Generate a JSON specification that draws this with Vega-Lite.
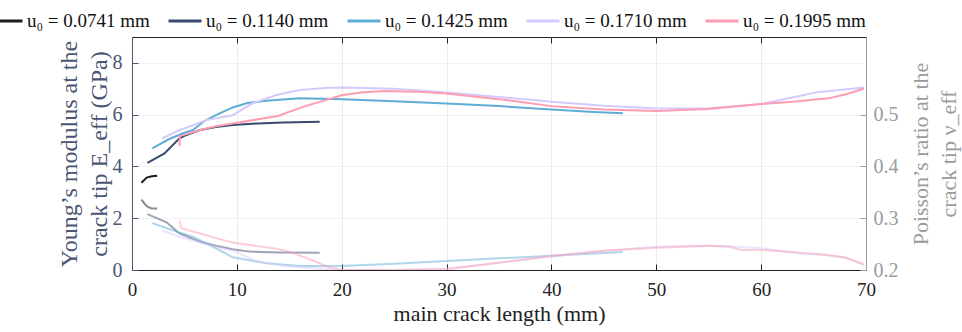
{
  "$schema": "https://vega.github.io/schema/vega-lite/v6.json",
  "width": 734,
  "height": 233,
  "autosize": {"type": "none"},
  "padding": {"left": 132, "top": 37, "right": 96, "bottom": 62},
  "background": "white",
  "config": {
    "font": "Liberation Serif",
    "view": {"stroke": "#222222", "strokeWidth": 1},
    "axis": {"labelFont": "Liberation Serif", "titleFont": "Liberation Serif", "titleFontWeight": "normal"},
    "legend": {"labelFont": "Liberation Serif"},
    "text": {"font": "Liberation Serif"}
  },
  "datasets": {
    "E": [
      {"u0": "0.0741", "x": 0.9, "v": 3.37}, {"u0": "0.0741", "x": 1.4, "v": 3.57}, {"u0": "0.0741", "x": 1.9, "v": 3.62}, {"u0": "0.0741", "x": 2.4, "v": 3.64},
      {"u0": "0.1140", "x": 1.47, "v": 4.14}, {"u0": "0.1140", "x": 3.1, "v": 4.5}, {"u0": "0.1140", "x": 4.5, "v": 5.08}, {"u0": "0.1140", "x": 5.0, "v": 5.18}, {"u0": "0.1140", "x": 6.4, "v": 5.4}, {"u0": "0.1140", "x": 8, "v": 5.52}, {"u0": "0.1140", "x": 9.6, "v": 5.6}, {"u0": "0.1140", "x": 12, "v": 5.66}, {"u0": "0.1140", "x": 14.4, "v": 5.7}, {"u0": "0.1140", "x": 17.9, "v": 5.73},
      {"u0": "0.1425", "x": 1.94, "v": 4.7}, {"u0": "0.1425", "x": 3.5, "v": 5.05}, {"u0": "0.1425", "x": 5.0, "v": 5.3}, {"u0": "0.1425", "x": 5.8, "v": 5.4}, {"u0": "0.1425", "x": 6.8, "v": 5.73}, {"u0": "0.1425", "x": 8, "v": 5.98}, {"u0": "0.1425", "x": 9.6, "v": 6.28}, {"u0": "0.1425", "x": 11, "v": 6.45}, {"u0": "0.1425", "x": 12.8, "v": 6.54}, {"u0": "0.1425", "x": 16, "v": 6.63}, {"u0": "0.1425", "x": 20, "v": 6.6}, {"u0": "0.1425", "x": 25, "v": 6.52}, {"u0": "0.1425", "x": 30, "v": 6.43}, {"u0": "0.1425", "x": 35, "v": 6.33}, {"u0": "0.1425", "x": 40, "v": 6.2}, {"u0": "0.1425", "x": 44, "v": 6.1}, {"u0": "0.1425", "x": 46.8, "v": 6.05},
      {"u0": "0.1710", "x": 2.86, "v": 5.08}, {"u0": "0.1710", "x": 4.5, "v": 5.4}, {"u0": "0.1710", "x": 7.1, "v": 5.79}, {"u0": "0.1710", "x": 9.6, "v": 5.98}, {"u0": "0.1710", "x": 11.5, "v": 6.44}, {"u0": "0.1710", "x": 13.75, "v": 6.76}, {"u0": "0.1710", "x": 16, "v": 6.95}, {"u0": "0.1710", "x": 18.8, "v": 7.04}, {"u0": "0.1710", "x": 20, "v": 7.05}, {"u0": "0.1710", "x": 25, "v": 7.0}, {"u0": "0.1710", "x": 30, "v": 6.86}, {"u0": "0.1710", "x": 35, "v": 6.68}, {"u0": "0.1710", "x": 40, "v": 6.5}, {"u0": "0.1710", "x": 45, "v": 6.34}, {"u0": "0.1710", "x": 50, "v": 6.24}, {"u0": "0.1710", "x": 55, "v": 6.25}, {"u0": "0.1710", "x": 60, "v": 6.41}, {"u0": "0.1710", "x": 63.3, "v": 6.69}, {"u0": "0.1710", "x": 65.5, "v": 6.88}, {"u0": "0.1710", "x": 67.5, "v": 6.95}, {"u0": "0.1710", "x": 69.8, "v": 7.05},
      {"u0": "0.1995", "x": 4.54, "v": 4.79}, {"u0": "0.1995", "x": 4.56, "v": 5.17}, {"u0": "0.1995", "x": 5.2, "v": 5.25}, {"u0": "0.1995", "x": 6.4, "v": 5.4}, {"u0": "0.1995", "x": 8, "v": 5.55}, {"u0": "0.1995", "x": 9.6, "v": 5.66}, {"u0": "0.1995", "x": 12, "v": 5.82}, {"u0": "0.1995", "x": 13.9, "v": 5.95}, {"u0": "0.1995", "x": 16.3, "v": 6.3}, {"u0": "0.1995", "x": 18.8, "v": 6.6}, {"u0": "0.1995", "x": 20, "v": 6.75}, {"u0": "0.1995", "x": 22, "v": 6.87}, {"u0": "0.1995", "x": 24.2, "v": 6.91}, {"u0": "0.1995", "x": 27, "v": 6.89}, {"u0": "0.1995", "x": 30, "v": 6.82}, {"u0": "0.1995", "x": 35, "v": 6.6}, {"u0": "0.1995", "x": 40, "v": 6.33}, {"u0": "0.1995", "x": 45, "v": 6.2}, {"u0": "0.1995", "x": 50, "v": 6.14}, {"u0": "0.1995", "x": 55, "v": 6.22}, {"u0": "0.1995", "x": 60, "v": 6.41}, {"u0": "0.1995", "x": 63, "v": 6.5}, {"u0": "0.1995", "x": 66.4, "v": 6.63}, {"u0": "0.1995", "x": 68, "v": 6.78}, {"u0": "0.1995", "x": 69.8, "v": 7.0}
    ],
    "NU": [
      {"u0": "0.0741", "x": 0.9, "v": 0.336}, {"u0": "0.0741", "x": 1.2, "v": 0.328}, {"u0": "0.0741", "x": 1.5, "v": 0.322}, {"u0": "0.0741", "x": 1.9, "v": 0.319}, {"u0": "0.0741", "x": 2.4, "v": 0.319},
      {"u0": "0.1140", "x": 1.47, "v": 0.308}, {"u0": "0.1140", "x": 3.3, "v": 0.292}, {"u0": "0.1140", "x": 4.5, "v": 0.271}, {"u0": "0.1140", "x": 6.4, "v": 0.255}, {"u0": "0.1140", "x": 8, "v": 0.247}, {"u0": "0.1140", "x": 9.6, "v": 0.24}, {"u0": "0.1140", "x": 11.2, "v": 0.2355}, {"u0": "0.1140", "x": 14, "v": 0.234}, {"u0": "0.1140", "x": 17.9, "v": 0.2335},
      {"u0": "0.1425", "x": 1.94, "v": 0.2905}, {"u0": "0.1425", "x": 4.5, "v": 0.2723}, {"u0": "0.1425", "x": 5.8, "v": 0.2645}, {"u0": "0.1425", "x": 8, "v": 0.242}, {"u0": "0.1425", "x": 9.6, "v": 0.2246}, {"u0": "0.1425", "x": 12.8, "v": 0.213}, {"u0": "0.1425", "x": 16, "v": 0.2078}, {"u0": "0.1425", "x": 20, "v": 0.2078}, {"u0": "0.1425", "x": 25, "v": 0.212}, {"u0": "0.1425", "x": 30, "v": 0.2174}, {"u0": "0.1425", "x": 35, "v": 0.2225}, {"u0": "0.1425", "x": 40, "v": 0.2277}, {"u0": "0.1425", "x": 46.8, "v": 0.2349},
      {"u0": "0.1710", "x": 2.86, "v": 0.276}, {"u0": "0.1710", "x": 4.5, "v": 0.2645}, {"u0": "0.1710", "x": 8, "v": 0.245}, {"u0": "0.1710", "x": 10, "v": 0.235}, {"u0": "0.1710", "x": 11.5, "v": 0.2194}, {"u0": "0.1710", "x": 14.4, "v": 0.2078}, {"u0": "0.1710", "x": 18.8, "v": 0.2013}, {"u0": "0.1710", "x": 20, "v": 0.2006}, {"u0": "0.1710", "x": 25, "v": 0.2}, {"u0": "0.1710", "x": 30, "v": 0.203}, {"u0": "0.1710", "x": 35, "v": 0.214}, {"u0": "0.1710", "x": 40, "v": 0.226}, {"u0": "0.1710", "x": 45, "v": 0.237}, {"u0": "0.1710", "x": 50, "v": 0.245}, {"u0": "0.1710", "x": 53.75, "v": 0.247}, {"u0": "0.1710", "x": 57, "v": 0.246}, {"u0": "0.1710", "x": 60, "v": 0.242}, {"u0": "0.1710", "x": 63.9, "v": 0.231}, {"u0": "0.1710", "x": 65.5, "v": 0.23}, {"u0": "0.1710", "x": 68, "v": 0.224}, {"u0": "0.1710", "x": 69.8, "v": 0.2097},
      {"u0": "0.1995", "x": 4.54, "v": 0.2955}, {"u0": "0.1995", "x": 4.7, "v": 0.2808}, {"u0": "0.1995", "x": 6.4, "v": 0.271}, {"u0": "0.1995", "x": 9.6, "v": 0.2529}, {"u0": "0.1995", "x": 13.9, "v": 0.2407}, {"u0": "0.1995", "x": 15.3, "v": 0.2335}, {"u0": "0.1995", "x": 17.9, "v": 0.213}, {"u0": "0.1995", "x": 18.8, "v": 0.2052}, {"u0": "0.1995", "x": 20, "v": 0.2}, {"u0": "0.1995", "x": 25, "v": 0.2}, {"u0": "0.1995", "x": 30, "v": 0.2013}, {"u0": "0.1995", "x": 35, "v": 0.214}, {"u0": "0.1995", "x": 40, "v": 0.2271}, {"u0": "0.1995", "x": 45, "v": 0.237}, {"u0": "0.1995", "x": 50, "v": 0.2432}, {"u0": "0.1995", "x": 55, "v": 0.247}, {"u0": "0.1995", "x": 56.9, "v": 0.245}, {"u0": "0.1995", "x": 58.2, "v": 0.2388}, {"u0": "0.1995", "x": 60, "v": 0.2388}, {"u0": "0.1995", "x": 63, "v": 0.235}, {"u0": "0.1995", "x": 66.4, "v": 0.229}, {"u0": "0.1995", "x": 68, "v": 0.224}, {"u0": "0.1995", "x": 69.8, "v": 0.211}
    ]
  },
  "layer": [
    {
      "layer": [
        {
          "data": {"name": "E"},
          "mark": {"type": "line", "strokeWidth": 2, "clip": true},
          "encoding": {
            "x": {"field": "x", "type": "quantitative", "scale": {"domain": [0, 70], "nice": false},
              "axis": {"orient": "bottom", "values": [0, 10, 20, 30, 40, 50, 60, 70], "title": "main crack length (mm)", "titleFontSize": 22, "titleColor": "#222222", "titlePadding": 4, "labelFontSize": 19, "labelColor": "#222222", "labelPadding": 16, "tickSize": -6, "tickColor": "#222222", "domainColor": "#222222", "grid": true, "gridColor": "#ebebeb", "labelFlush": false}},
            "y": {"field": "v", "type": "quantitative", "scale": {"domain": [0, 9], "nice": false, "zero": false},
              "axis": {"orient": "left", "values": [0, 2, 4, 6, 8], "title": ["Young’s modulus at the", "crack tip E_eff (GPa)"], "titleFontSize": 24, "titleLineHeight": 30, "titleColor": "#4a5574", "titlePadding": 1, "labelFontSize": 20, "labelColor": "#4a5574", "labelPadding": 16, "tickSize": -6, "tickColor": "#4a5574", "domainColor": "#4a5574", "grid": true, "gridColor": "#f0f0f0"}},
            "color": {"field": "u0", "type": "nominal",
              "scale": {"domain": ["0.0741", "0.1140", "0.1425", "0.1710", "0.1995"], "range": ["#1c1c1c", "#3a4a6e", "#5fadd6", "#d5c9fd", "#fd9db1"]},
              "legend": {"orient": "none", "legendX": -144, "legendY": -34, "direction": "horizontal", "columns": 5, "title": null, "symbolType": "stroke", "symbolSize": 1089, "symbolStrokeWidth": 3, "labelFontSize": 19, "labelColor": "#111111", "labelOffset": 3, "columnPadding": 12, "labelExpr": "'u₀ = ' + datum.label + ' mm'", "labelLimit": 300}}
          }
        },
        {
          "mark": {"type": "rule", "color": "#6f6f6f", "strokeWidth": 2},
          "encoding": {"y": {"datum": 3}}
        },
        {
          "mark": {"type": "text", "align": "left", "baseline": "middle", "fontSize": 19, "color": "#111111"},
          "encoding": {"x": {"datum": 10.1}, "y": {"datum": 3.66}, "text": {"value": "E (3 GPa)"}}
        }
      ]
    },
    {
      "layer": [
        {
          "data": {"name": "NU"},
          "mark": {"type": "line", "strokeWidth": 2, "opacity": 0.5, "clip": true},
          "encoding": {
            "x": {"field": "x", "type": "quantitative", "scale": {"domain": [0, 70], "nice": false},
              "axis": {"orient": "top", "values": [0, 10, 20, 30, 40, 50, 60, 70], "labels": false, "title": null, "tickSize": -6, "tickColor": "#222222", "domain": false, "grid": false}},
            "y": {"field": "v", "type": "quantitative", "scale": {"domain": [0.2, 0.65], "nice": false, "zero": false},
              "axis": {"orient": "right", "values": [0.2, 0.25, 0.3, 0.35, 0.4, 0.45, 0.5], "title": ["Poisson’s ratio at the", "crack tip ν_eff"], "titleAngle": -90, "titleFontSize": 22, "titleLineHeight": 28, "titleColor": "#9b9b9b", "titlePadding": 6, "labelFontSize": 20, "labelColor": "#9b9b9b", "labelPadding": 13, "tickSize": -6, "tickColor": "#9b9b9b", "domainColor": "#9b9b9b", "grid": false}},
            "color": {"field": "u0", "type": "nominal", "legend": null}
          }
        },
        {
          "mark": {"type": "text", "align": "left", "baseline": "middle", "fontSize": 18, "color": "#a0a0a0"},
          "encoding": {"x": {"datum": 49.9}, "y": {"datum": 0.318}, "text": {"value": "ν (0.35)"}}
        }
      ]
    }
  ],
  "resolve": {"scale": {"y": "independent"}, "axis": {"x": "independent"}}
}
